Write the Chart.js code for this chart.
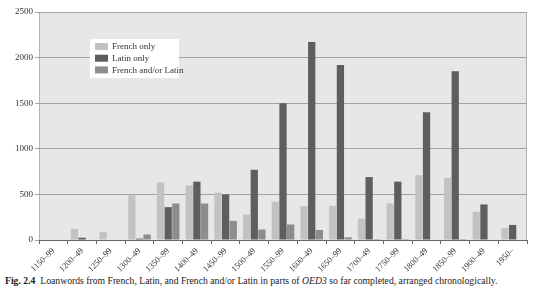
<!DOCTYPE html>
<html>
<head>
<meta charset="utf-8">
<script src="https://cdn.jsdelivr.net/npm/chart.js@4"></script>
<style>
  body { margin: 0; background: #fff; width: 540px; height: 289px; overflow: hidden; position: relative; }
  #wrap { position: absolute; left: 0; top: 0; width: 540px; height: 274px; }
  #caption {
    position: absolute; left: 5px; top: 275px;
    font-family: "Liberation Serif", serif; font-size: 9.7px; color: #222;
    white-space: nowrap;
  }
</style>
</head>
<body>
<div id="wrap"><canvas id="chart" width="540" height="274"></canvas></div>
<div id="caption"><b>Fig. 2.4</b>&nbsp; Loanwords from French, Latin, and French and/or Latin in parts of <i>OED3</i> so far completed, arranged chronologically.</div>
<script>
"use strict";

// Periods (x axis)
const periods = [
  "1150–99", "1200–49", "1250–99", "1300–49", "1350–99", "1400–49",
  "1450–99", "1500–49", "1550–99", "1600–49", "1650–99", "1700–49",
  "1750–99", "1800–49", "1850–99", "1900–49", "1950–"
];

// Series values
const frenchOnly = [0, 120, 90, 490, 630, 600, 520, 280, 420, 370, 375, 235, 400, 710, 680, 310, 130];
const latinOnly = [0, 25, 0, 15, 360, 640, 500, 770, 1500, 2170, 1920, 690, 640, 1400, 1850, 390, 165];
const frenchOrLatin = [0, 0, 0, 60, 400, 400, 210, 115, 170, 110, 30, 10, 10, 0, 10, 0, 0];

const yTicks = [0, 500, 1000, 1500, 2000, 2500];

const serif = "'Liberation Serif', 'DejaVu Serif', serif";

// Grey plot background
const plotBackground = {
  id: "plotBackground",
  beforeDraw(chart) {
    const { ctx, chartArea: a } = chart;
    ctx.save();
    ctx.fillStyle = "#e7e7e7";
    ctx.fillRect(a.left, a.top, a.right - a.left, a.bottom - a.top);
    ctx.strokeStyle = "#b5b5b5";
    ctx.lineWidth = 1;
    ctx.strokeRect(a.left + 0.5, a.top + 0.5, a.right - a.left - 1, a.bottom - a.top);
    ctx.restore();
  }
};

// Legend box drawn inside the plot
const insideLegend = {
  id: "insideLegend",
  afterDatasetsDraw(chart) {
    const { ctx } = chart;
    const x = 90, y = 39, w = 89, h = 39;
    ctx.save();
    ctx.fillStyle = "#ffffff";
    ctx.fillRect(x, y, w, h);
    ctx.font = "9px " + serif;
    ctx.textBaseline = "middle";
    chart.data.datasets.forEach((ds, i) => {
      const ry = y + 4 + i * 11.7;
      ctx.fillStyle = ds.backgroundColor;
      ctx.fillRect(x + 5, ry, 13, 7);
      ctx.fillStyle = "#333";
      ctx.fillText(ds.label, x + 22, ry + 4);
    });
    ctx.restore();
  }
};

const makeChart = () => {
  const ctx = document.getElementById("chart").getContext("2d");
  new Chart(ctx, {
    type: "bar",
    data: {
      labels: periods,
      datasets: [
        { label: "French only", data: frenchOnly, backgroundColor: "#c2c2c2" },
        { label: "Latin only", data: latinOnly, backgroundColor: "#5e5e5e" },
        { label: "French and/or Latin", data: frenchOrLatin, backgroundColor: "#8d8d8d" }
      ]
    },
    options: {
      responsive: false,
      animation: false,
      layout: { padding: { left: 13, right: 13, top: 12, bottom: 0 } },
      datasets: { bar: { categoryPercentage: 0.8, barPercentage: 0.95 } },
      plugins: { legend: { display: false }, tooltip: { enabled: false } },
      scales: {
        x: {
          afterFit: (axis) => { axis.height = 34; },
          grid: { display: true, drawOnChartArea: false, offset: true, tickLength: 4, color: "#666" },
          border: { color: "#666" },
          ticks: {
            color: "#333",
            font: { family: serif, size: 8.5 },
            maxRotation: 45, minRotation: 45, padding: 2, autoSkip: false
          }
        },
        y: {
          min: 0, max: 2500,
          afterBuildTicks: (axis) => { axis.ticks = yTicks.map((v) => ({ value: v })); },
          grid: { color: "#a3a3a3", tickLength: 4, drawTicks: true },
          border: { display: false },
          ticks: {
            color: "#333", font: { family: serif, size: 9 }, padding: 2,
            callback: (v) => String(v)
          }
        }
      }
    },
    plugins: [plotBackground, insideLegend]
  });
};

document.addEventListener("DOMContentLoaded", makeChart);
</script>
</body>
</html>
